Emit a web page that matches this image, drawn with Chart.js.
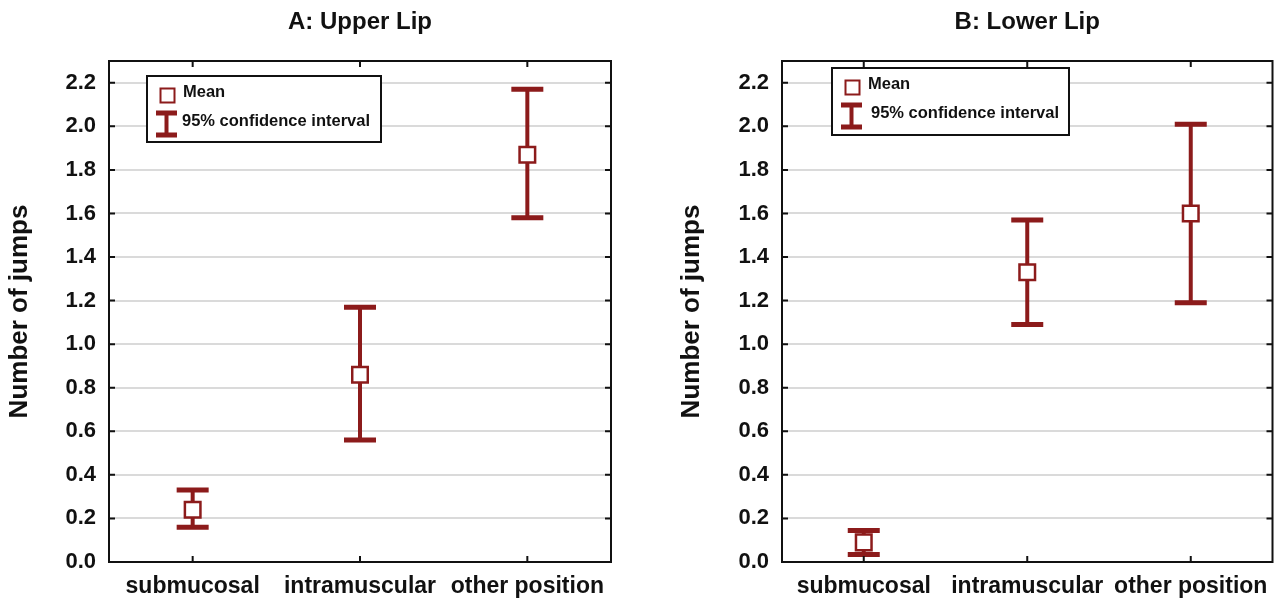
<!DOCTYPE html>
<html>
<head>
<meta charset="utf-8">
<script src="https://cdn.jsdelivr.net/npm/chart.js@4.4.1/dist/chart.umd.min.js"></script>
<style>
  html, body { margin: 0; padding: 0; background: #fff; }
  .panel { position: absolute; top: 0; width: 643px; height: 601px; }
</style>
</head>
<body>
<div class="panel" style="left:0"><canvas id="upperLipChart"></canvas></div>
<div class="panel" style="left:643px"><canvas id="lowerLipChart"></canvas></div>
<script>
const positions = ['submucosal', 'intramuscular', 'other position'];
const yTicks = [0, 0.2, 0.4, 0.6, 0.8, 1.0, 1.2, 1.4, 1.6, 1.8, 2.0, 2.2];

// A: Upper Lip
const upperMean = [0.24, 0.86, 1.87];
const upperLow = [0.16, 0.56, 1.58];
const upperHigh = [0.33, 1.17, 2.17];

// B: Lower Lip
const lowerMean = [0.09, 1.33, 1.60];
const lowerLow = [0.035, 1.09, 1.19];
const lowerHigh = [0.145, 1.57, 2.01];

const RED = '#8c1b1b';
const FONT = "'Liberation Sans', Arial, sans-serif";

// error bars drawn through the scales, below the mean markers
const ciBars = {
  id: 'ciBars',
  beforeDatasetsDraw(chart) {
    const { ctx, scales: { x, y } } = chart;
    const ds = chart.data.datasets[0];
    ctx.save();
    ctx.strokeStyle = RED;
    ds.data.forEach((m, i) => {
      const px = x.getPixelForValue(i);
      const top = y.getPixelForValue(ds.ciHigh[i]);
      const bot = y.getPixelForValue(ds.ciLow[i]);
      ctx.lineWidth = 4;
      ctx.beginPath();
      ctx.moveTo(px, top);
      ctx.lineTo(px, bot);
      ctx.stroke();
      ctx.lineWidth = 5;
      ctx.beginPath();
      ctx.moveTo(px - 16, top);
      ctx.lineTo(px + 16, top);
      ctx.moveTo(px - 16, bot);
      ctx.lineTo(px + 16, bot);
      ctx.stroke();
    });
    ctx.restore();
  }
};

// black frame with short inward ticks
const frame = {
  id: 'frame',
  afterDraw(chart) {
    const { ctx, chartArea: a, scales: { x, y } } = chart;
    ctx.save();
    ctx.strokeStyle = '#111';
    ctx.lineWidth = 2;
    ctx.strokeRect(a.left, a.top, a.right - a.left, a.bottom - a.top);
    ctx.beginPath();
    y.ticks.forEach(t => {
      const py = y.getPixelForValue(t.value);
      ctx.moveTo(a.left, py); ctx.lineTo(a.left + 6, py);
      ctx.moveTo(a.right, py); ctx.lineTo(a.right - 6, py);
    });
    positions.forEach((p, i) => {
      const px = x.getPixelForValue(i);
      ctx.moveTo(px, a.top); ctx.lineTo(px, a.top + 6);
      ctx.moveTo(px, a.bottom); ctx.lineTo(px, a.bottom - 6);
    });
    ctx.stroke();
    ctx.restore();
  }
};

// legend box inside the plot
const ciLegend = {
  id: 'ciLegend',
  afterDraw(chart, args, opts) {
    const { ctx, chartArea: a } = chart;
    const bx = a.left + opts.dx, by = a.top + opts.dy;
    ctx.save();
    ctx.fillStyle = '#fff';
    ctx.fillRect(bx, by, opts.w, opts.h);
    ctx.strokeStyle = '#111';
    ctx.lineWidth = 2;
    ctx.strokeRect(bx, by, opts.w, opts.h);

    ctx.strokeStyle = RED;
    ctx.lineWidth = 2;
    ctx.strokeRect(bx + 13.5, by + 12.5, 14, 14);

    ctx.lineWidth = 4;
    ctx.beginPath();
    ctx.moveTo(bx + 19.5, by + 36); ctx.lineTo(bx + 19.5, by + 60);
    ctx.stroke();
    ctx.lineWidth = 5;
    ctx.beginPath();
    ctx.moveTo(bx + 9, by + 37); ctx.lineTo(bx + 30, by + 37);
    ctx.moveTo(bx + 9, by + 59); ctx.lineTo(bx + 30, by + 59);
    ctx.stroke();

    ctx.fillStyle = '#111';
    ctx.font = 'bold 16.5px ' + FONT;
    ctx.textBaseline = 'middle';
    ctx.fillText('Mean', bx + 36, by + 16);
    ctx.fillText('95% confidence interval', bx + opts.textX, by + 45);
    ctx.restore();
  }
};

function makeChart(id, title, mean, low, high, pad, legend) {
  return new Chart(document.getElementById(id), {
    type: 'line',
    data: {
      labels: positions,
      datasets: [{
        data: mean,
        ciLow: low,
        ciHigh: high,
        showLine: false,
        pointStyle: 'rect',
        pointRadius: 11,
        pointBorderWidth: 2.5,
        pointBackgroundColor: '#fff',
        pointBorderColor: RED
      }]
    },
    options: {
      responsive: true,
      maintainAspectRatio: false,
      animation: false,
      events: [],
      layout: { padding: { left: pad.left, right: pad.right, top: 0, bottom: 0 } },
      plugins: {
        legend: { display: false },
        tooltip: { enabled: false },
        title: {
          display: true,
          text: title,
          fullSize: false,
          color: '#111',
          font: { family: FONT, size: 24, weight: 'bold' },
          padding: { top: 8, bottom: 24.2 }
        },
        ciLegend: legend
      },
      scales: {
        x: {
          offset: true,
          grid: { display: false, drawTicks: false },
          border: { display: false },
          ticks: { color: '#111', padding: 11, font: { family: FONT, size: 23, weight: 'bold' } },
          afterFit(s) { s.height = 39; }
        },
        y: {
          min: 0,
          max: 2.3,
          grid: { color: '#dadada', lineWidth: 2, drawTicks: false },
          border: { display: false },
          ticks: {
            padding: 13,
            color: '#111',
            font: { family: FONT, size: 22, weight: 'bold' },
            callback: v => v.toFixed(1)
          },
          afterBuildTicks(s) { s.ticks = yTicks.map(v => ({ value: v })); },
          title: {
            display: true,
            text: 'Number of jumps',
            color: '#111',
            font: { family: FONT, size: 26, weight: 'bold' },
            padding: { top: 4, bottom: 0 }
          },
          afterFit(s) { s.width = pad.axis; }
        }
      }
    },
    plugins: [ciBars, frame, ciLegend]
  });
}

makeChart('upperLipChart', 'A: Upper Lip', upperMean, upperLow, upperHigh,
  { left: 0, right: 32, axis: 109 }, { dx: 38, dy: 15, w: 234, h: 66, textX: 35 });
makeChart('lowerLipChart', 'B: Lower Lip', lowerMean, lowerLow, lowerHigh,
  { left: 29, right: 4, axis: 110 }, { dx: 50, dy: 7, w: 237, h: 67, textX: 39 });
</script>
</body>
</html>
